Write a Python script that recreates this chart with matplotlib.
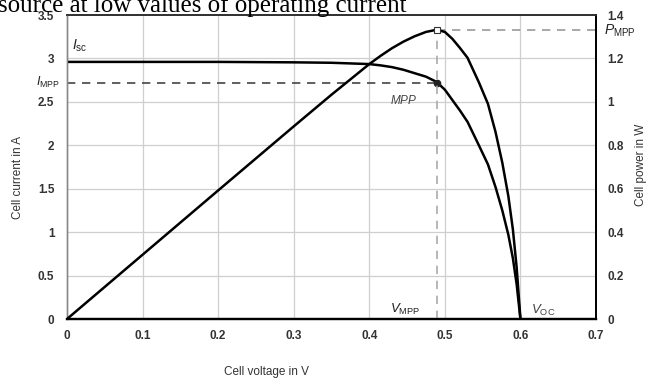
import matplotlib
matplotlib.use("Agg")
import matplotlib.pyplot as plt

# ---- data ----
voltage = [0.0, 0.1, 0.2, 0.3, 0.35, 0.40, 0.415, 0.43, 0.445, 0.46, 0.475, 0.489, 0.50, 0.51,
           0.52, 0.53, 0.545, 0.557, 0.567, 0.576, 0.584, 0.59, 0.595, 0.6]
current = [2.96, 2.96, 2.96, 2.955, 2.95, 2.935, 2.92, 2.90, 2.87, 2.83, 2.79, 2.73, 2.64, 2.52,
           2.40, 2.27, 2.00, 1.78, 1.52, 1.25, 0.97, 0.70, 0.40, 0.0]
power = [0.0, 0.296, 0.592, 0.887, 1.033, 1.174, 1.212, 1.247, 1.277, 1.302, 1.322, 1.332, 1.322,
         1.29, 1.248, 1.203, 1.09, 0.991, 0.862, 0.72, 0.566, 0.413, 0.238, 0.0]

v_mpp = 0.489
i_mpp = 2.72
p_mpp = 1.33

x_ticks = [0, 0.1, 0.2, 0.3, 0.4, 0.5, 0.6, 0.7]
x_ticklabels = ["0", "0.1", "0.2", "0.3", "0.4", "0.5", "0.6", "0.7"]
i_ticks = [0, 0.5, 1, 1.5, 2, 2.5, 3, 3.5]
i_ticklabels = ["0", "0.5", "1", "1.5", "2", "2.5", "3", "3.5"]
p_ticks = [0, 0.2, 0.4, 0.6, 0.8, 1.0, 1.2, 1.4]
p_ticklabels = ["0", "0.2", "0.4", "0.6", "0.8", "1", "1.2", "1.4"]

plt.rcParams['font.family'] = ['Liberation Sans', 'DejaVu Sans']
plt.rcParams['mathtext.fontset'] = 'custom'
plt.rcParams['mathtext.it'] = 'Liberation Sans:italic'
plt.rcParams['mathtext.rm'] = 'Liberation Sans'

fig = plt.figure(figsize=(6.53, 3.81), dpi=100)
ax = fig.add_axes([67/653, 1-319/381, (596-67)/653, (319-15)/381])
ax2 = ax.twinx()

tick_color = "#333333"
grid_color = "#cfcfcf"

ax.set_xlim(0, 0.7)
ax.set_ylim(0, 3.5)
ax2.set_ylim(0, 1.4)

for xv in x_ticks[1:-1]:
    ax.axvline(xv, color=grid_color, lw=0.9, zorder=0)
for yv in i_ticks[1:-1]:
    ax.axhline(yv, color=grid_color, lw=0.9, zorder=0)

# curves
ax.plot(voltage, current, color="black", lw=1.8, zorder=3, solid_joinstyle="round")
ax2.plot(voltage, power, color="black", lw=1.8, zorder=3, solid_joinstyle="round")

# dashed helper lines
ax.plot([0, v_mpp], [i_mpp, i_mpp], color="#444444", lw=1.2, ls=(0, (5, 4)), zorder=2)
ax2.plot([v_mpp, 0.7], [p_mpp, p_mpp], color="#999999", lw=1.2, ls=(0, (5, 4)), zorder=2)
ax2.plot([v_mpp, v_mpp], [0, p_mpp], color="#aaaaaa", lw=1.2, ls=(0, (5, 4)), zorder=2)

# markers
ax.plot([v_mpp], [i_mpp], marker="o", ms=4.5, color="#222222", zorder=4)
ax2.plot([v_mpp], [p_mpp], marker="s", ms=4, mfc="white", mec="#333333", mew=0.8, zorder=4)

# ticks
ax.set_xticks(x_ticks)
ax.set_xticklabels(x_ticklabels)
ax.set_yticks(i_ticks)
ax.set_yticklabels(i_ticklabels)
ax2.set_yticks(p_ticks)
ax2.set_yticklabels(p_ticklabels)
for a in (ax, ax2):
    a.tick_params(length=0, labelsize=8.5, labelcolor=tick_color)
ax.tick_params(axis='x', pad=8)
ax.tick_params(axis='y', pad=9)
ax2.tick_params(axis='y', pad=8)
for lab in ax.get_xticklabels() + ax.get_yticklabels() + ax2.get_yticklabels():
    lab.set_fontweight("bold")

# spines
for a in (ax, ax2):
    a.spines['left'].set_color("#888888")
    a.spines['left'].set_linewidth(1.0)
    a.spines['bottom'].set_color("black")
    a.spines['bottom'].set_linewidth(1.6)
    a.spines['right'].set_color("black")
    a.spines['right'].set_linewidth(1.3)
    a.spines['top'].set_color("#333333")
    a.spines['top'].set_linewidth(1.3)

# axis labels
fig.text(18/653, 1-177/381, "Cell current in A", rotation=90, ha="center", va="center",
         fontsize=8.5, color="#333333")
fig.text(266/653, 1-372/381, "Cell voltage in V", ha="center", va="center",
         fontsize=8.5, color="#333333")
fig.text(641/653, 1-165/381, "Cell power in W", rotation=90, ha="center", va="center",
         fontsize=8.5, color="#333333")

# annotations
fig.text(72/653, 1-46/381, r"$I_{\rm sc}$", ha="left", va="center", fontsize=10, color="#222222")
fig.text(36/653, 1-82/381, r"$I_{\rm MPP}$", ha="left", va="center", fontsize=9, color="#222222")
fig.text(604/653, 1-31/381, r"$P_{\rm MPP}$", ha="left", va="center", fontsize=10, color="#222222")
fig.text(404/653, 1-101/381, r"$MPP$", ha="center", va="center", fontsize=8.5, color="#444444")
fig.text(405/653, 1-309/381, r"$V_{\rm MPP}$", ha="center", va="center", fontsize=9.5, color="#222222")
fig.text(543/653, 1-310/381, r"$V_{\rm OC}$", ha="center", va="center", fontsize=9.5, color="#444444")

# cropped caption text at top
fig.text(-2/653, 1-12/381, "source at low values of operating current", ha="left", va="baseline",
         fontsize=18, family=["Liberation Serif", "DejaVu Serif"], color="black")

fig.savefig("out.png", dpi=100)
